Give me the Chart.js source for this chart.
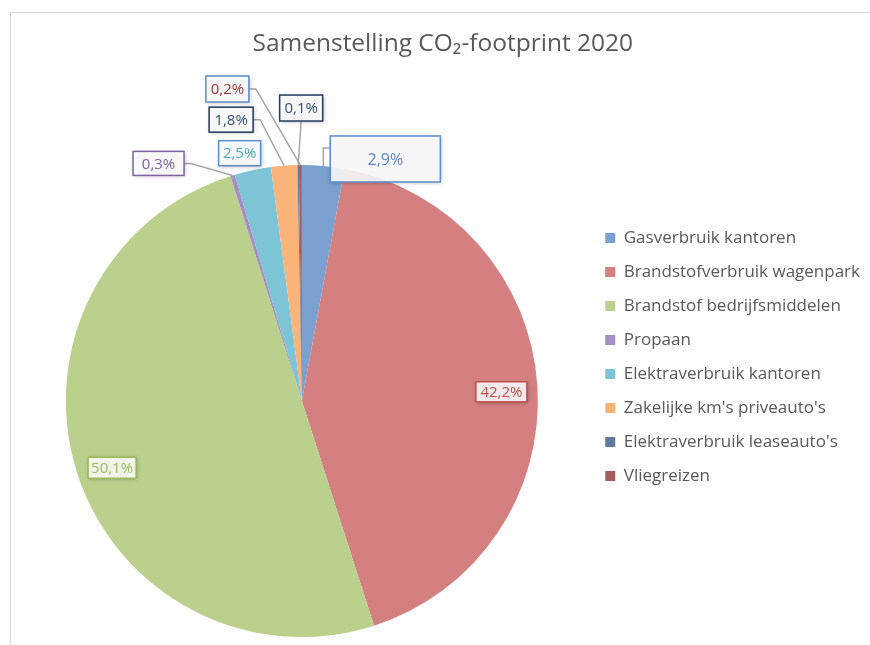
<!DOCTYPE html>
<html>
<head>
<meta charset="utf-8">
<script src="https://cdn.jsdelivr.net/npm/chart.js@4/dist/chart.umd.min.js"></script>
<style>
  html, body { margin: 0; padding: 0; background: #fff; overflow: hidden; }
  #wrap { position: relative; width: 870px; height: 645px; }
  #frame { position: absolute; left: 10px; top: 12px; width: 900px; height: 700px;
           border-left: 1.5px solid #d9d9d9; border-top: 1.5px solid #d9d9d9; }
  #my-chart { position: absolute; left: 0; top: 0; }
</style>
</head>
<body>
<div id="wrap">
  <div id="frame"></div>
  <canvas id="my-chart" width="870" height="645"></canvas>
</div>
<script>
const categories = [
  "Gasverbruik kantoren",
  "Brandstofverbruik wagenpark",
  "Brandstof bedrijfsmiddelen",
  "Propaan",
  "Elektraverbruik kantoren",
  "Zakelijke km's priveauto's",
  "Elektraverbruik leaseauto's",
  "Vliegreizen",
];
const shares = [2.9, 42.2, 50.1, 0.3, 2.5, 1.8, 0.1, 0.2];

const sliceColors = [
  "rgb(124, 160, 208)",
  "rgb(212, 128, 128)",
  "rgb(187, 208, 140)",
  "rgb(166, 142, 196)",
  "rgb(125, 196, 214)",
  "rgb(250, 180, 122)",
  "rgb(96, 121, 157)",
  "rgb(164, 96, 96)",
];
const labelText = ["#5b84c0", "#c0504d", "#9bbb59", "#8064a2", "#4bacc6", "#34506f", "#34506f", "#943634"];
const labelBorder = ["#5b8ccf", "#c0504d", "#9bbb59", "#8064a2", "#5b8ccf", "#1f3b5e", "#1f3b5e", "#5b8ccf"];

// where each value label sits, relative to the middle of its slice's outer edge
const placement = [
  { dx: 62, dy: -7, w: 110, h: 46, leader: "left", ly: -11, size: 16 },
  { dx: -36, dy: 6, w: 51, h: 20, leader: null, size: 15 },
  { dx: 35, dy: -5, w: 48, h: 21, leader: null, size: 15 },
  { dx: -74, dy: -12, w: 51, h: 24, leader: "right", size: 15 },
  { dx: -13, dy: -17, w: 42, h: 25, leader: null, size: 15 },
  { dx: -53, dy: -46, w: 44, h: 25, leader: "right", size: 15 },
  { dx: 3, dy: -57, w: 43, h: 26, leader: "below", size: 15 },
  { dx: -73, dy: -76, w: 43, h: 26, leader: "right", size: 15 },
];

const fontFamily = "'Open Sans', Lato, sans-serif";

const sliceLabels = {
  id: "sliceLabels",
  afterDatasetsDraw(chart) {
    const ctx = chart.ctx;
    const meta = chart.getDatasetMeta(0);
    const values = chart.data.datasets[0].data;
    meta.data.forEach((arc, i) => {
      const p = arc.getProps(["x", "y", "startAngle", "endAngle", "outerRadius"], true);
      const mid = (p.startAngle + p.endAngle) / 2;
      const ax = p.x + Math.cos(mid) * p.outerRadius;
      const ay = p.y + Math.sin(mid) * p.outerRadius;
      const pl = placement[i];
      const cx = ax + pl.dx;
      const cy = ay + pl.dy;
      const left = cx - pl.w / 2;
      const top = cy - pl.h / 2;

      ctx.save();
      // leader line
      if (pl.leader) {
        ctx.strokeStyle = "#a6a6a6";
        ctx.lineWidth = 1.5;
        ctx.beginPath();
        if (pl.leader === "right") {
          ctx.moveTo(left + pl.w, cy);
          ctx.lineTo(left + pl.w + 7, cy);
          ctx.lineTo(ax, ay);
        } else if (pl.leader === "left") {
          ctx.moveTo(left, cy + pl.ly);
          ctx.lineTo(ax, cy + pl.ly);
          ctx.lineTo(ax, ay);
        } else {
          ctx.moveTo(cx, top + pl.h);
          ctx.lineTo(ax, ay);
        }
        ctx.stroke();
      }
      // box
      ctx.shadowColor = "rgba(0, 0, 0, 0.3)";
      ctx.shadowBlur = 4;
      ctx.shadowOffsetX = 1;
      ctx.shadowOffsetY = 1;
      ctx.fillStyle = "rgba(255, 255, 255, 0.88)";
      ctx.fillRect(left, top, pl.w, pl.h);
      ctx.shadowColor = "transparent";
      ctx.strokeStyle = labelBorder[i];
      ctx.lineWidth = 1.5;
      ctx.strokeRect(left, top, pl.w, pl.h);
      // text
      ctx.fillStyle = labelText[i];
      ctx.font = pl.size + "px " + fontFamily;
      ctx.textAlign = "center";
      ctx.textBaseline = "middle";
      ctx.fillText(values[i].toFixed(1).replace(".", ",") + "%", cx, cy + 1);
      ctx.restore();
    });
  },
};

new Chart(document.getElementById("my-chart"), {
  type: "pie",
  data: {
    labels: categories,
    datasets: [
      {
        data: shares,
        backgroundColor: sliceColors,
        borderWidth: 0,
        radius: 236,
        clip: false,
      },
    ],
  },
  options: {
    responsive: false,
    animation: false,
    layout: {
      padding: { left: 15.5, right: 0, top: 12, bottom: 55.5 },
    },
    plugins: {
      title: {
        display: true,
        text: "Samenstelling CO₂-footprint 2020",
        color: "#595959",
        font: { family: fontFamily, size: 24.5, weight: "normal" },
        padding: { top: 17, bottom: 154.1 },
      },
      legend: {
        position: "right",
        align: "start",
        fullSize: false,
        labels: {
          boxWidth: 10,
          boxHeight: 10,
          padding: 17,
          color: "#595959",
          font: { family: fontFamily, size: 17 },
        },
      },
      tooltip: { enabled: false },
    },
  },
  plugins: [sliceLabels],
});
</script>
</body>
</html>
